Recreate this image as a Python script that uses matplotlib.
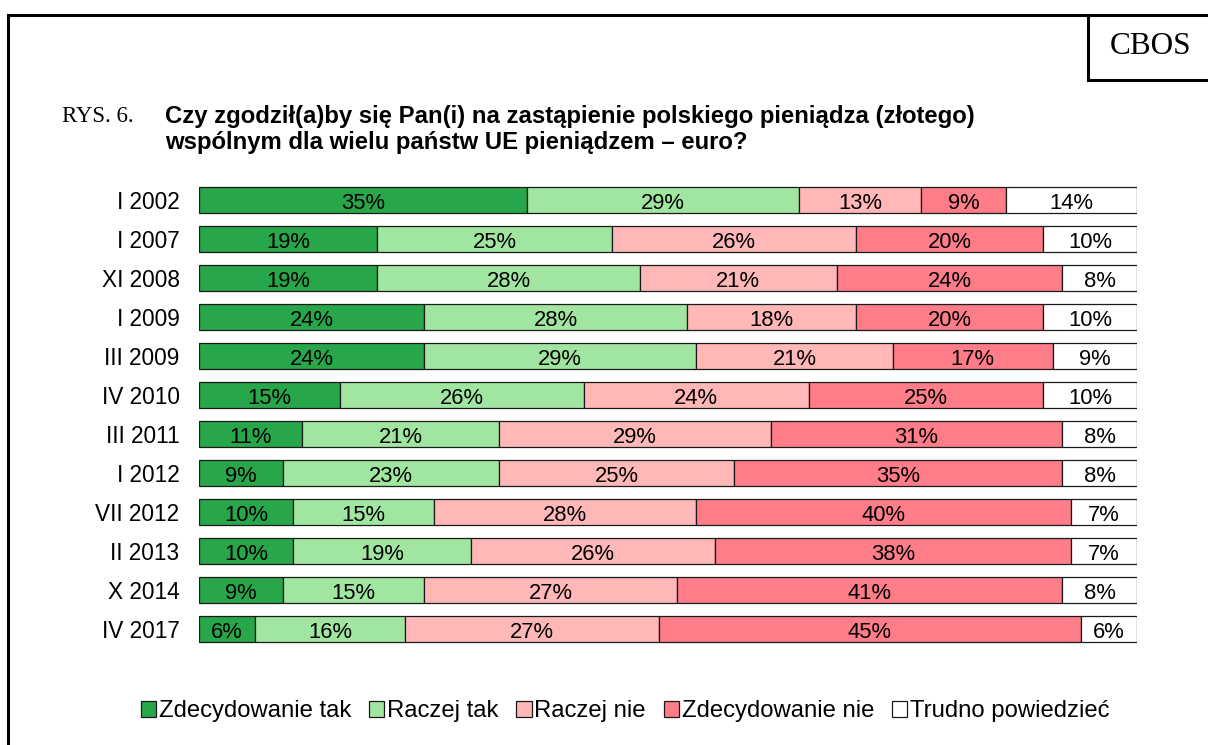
import numpy as np
import matplotlib.pyplot as plt
from matplotlib import font_manager
from matplotlib.lines import Line2D
from matplotlib.patches import Patch

plt.rcParams['font.family'] = ['Liberation Sans', 'DejaVu Sans']

periods = ['I 2002', 'I 2007', 'XI 2008', 'I 2009', 'III 2009', 'IV 2010',
           'III 2011', 'I 2012', 'VII 2012', 'II 2013', 'X 2014', 'IV 2017']
zdecydowanie_tak = [35, 19, 19, 24, 24, 15, 11, 9, 10, 10, 9, 6]
raczej_tak = [29, 25, 28, 28, 29, 26, 21, 23, 15, 19, 15, 16]
raczej_nie = [13, 26, 21, 18, 21, 24, 29, 25, 28, 26, 27, 27]
zdecydowanie_nie = [9, 20, 24, 20, 17, 25, 31, 35, 40, 38, 41, 45]
trudno = [14, 10, 8, 10, 9, 10, 8, 8, 7, 7, 8, 6]

series = [zdecydowanie_tak, raczej_tak, raczej_nie, zdecydowanie_nie, trudno]
names = ['Zdecydowanie tak', 'Raczej tak', 'Raczej nie', 'Zdecydowanie nie', 'Trudno powiedzieć']
colors = ['#27a74a', '#a0e6a0', '#ffb7b7', '#ff7c89', '#ffffff']

# the labels in the chart look tall and narrow
try:
    font_manager.findfont('Liberation Sans Narrow', fallback_to_default=False)
    narrow = ['Liberation Sans Narrow', 'DejaVu Sans']
    tick_fs, bar_fs = 20, 19
except ValueError:
    narrow = ['Liberation Sans', 'DejaVu Sans']
    tick_fs, bar_fs = 16.3, 15.8

W, H = 1208, 745
fig = plt.figure(figsize=(W / 100, H / 100), dpi=100)
ax = fig.add_axes([199 / W, 1 - 648.5 / H, (1137 - 199) / W, (648.5 - 180.5) / H])

y = np.arange(len(periods))
left = np.zeros(len(periods))
for vals, name, col in zip(series, names, colors):
    vals = np.array(vals)
    ax.barh(y, vals, left=left, height=0.65, color=col, edgecolor='#1a1a1a',
            linewidth=0.9, label=name)
    for yi, l, v in zip(y, left, vals):
        ax.text(l + v / 2, yi + 0.08, f'{v}%', ha='center', va='center',
                fontsize=bar_fs, family=narrow)
    left += vals

ax.set_xlim(0, 100)
ax.set_ylim(len(periods) - 0.5, -0.5)
ax.set_yticks(y)
ax.set_yticklabels(periods, fontsize=tick_fs, family=narrow)
ax.tick_params(axis='y', length=0, pad=14)
ax.set_xticks([])
for s in ax.spines.values():
    s.set_visible(False)

# frame and CBOS box
lw = 2.2
fig.add_artist(Line2D([8 / W, 1], [1 - 15 / H, 1 - 15 / H], color='black', lw=lw))
fig.add_artist(Line2D([8 / W, 8 / W], [0, 1 - 15 / H], color='black', lw=lw))
fig.add_artist(Line2D([1088 / W, 1088 / W], [1 - 15 / H, 1 - 80 / H], color='black', lw=lw))
fig.add_artist(Line2D([1088 / W, 1], [1 - 80 / H, 1 - 80 / H], color='black', lw=lw))
fig.text(1151 / W, 1 - 47 / H, 'CBOS', ha='center', va='center', fontsize=22.5,
         family='Liberation Serif')

fig.text(62 / W, 1 - 117 / H, 'RYS. 6.', ha='left', va='center', fontsize=16.4,
         family='Liberation Serif')
fig.text(165 / W, 1 - 116 / H, 'Czy zgodził(a)by się Pan(i) na zastąpienie polskiego pieniądza (złotego)',
         ha='left', va='center', fontsize=17.2, fontweight='bold')
fig.text(165 / W, 1 - 143 / H, 'wspólnym dla wielu państw UE pieniądzem – euro?',
         ha='left', va='center', fontsize=17.2, fontweight='bold')

handles = [Patch(facecolor=c, edgecolor='#1a1a1a', linewidth=0.9) for c in colors]
fig.legend(handles, names, loc='center', bbox_to_anchor=(625 / W, 1 - 711 / H),
           ncol=5, frameon=False, fontsize=17.2, handlelength=0.65, handleheight=0.65,
           handletextpad=0.1, columnspacing=0.75)

fig.savefig('out.png', dpi=100)
